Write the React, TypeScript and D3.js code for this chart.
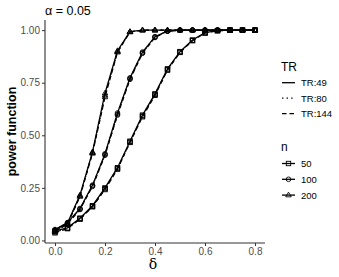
import { useEffect, useRef } from 'react';
import * as d3 from 'd3';

// delta values on the x axis
const deltas = [0, 0.05, 0.1, 0.15, 0.2, 0.25, 0.3, 0.35, 0.4, 0.45, 0.5, 0.55, 0.6, 0.65, 0.7, 0.75, 0.8];

const trLevels = ['TR:49', 'TR:80', 'TR:144'];
const nLevels = ['50', '100', '200'];

// power values, one array per n / TR
const n50_tr49 = [0.045, 0.060, 0.106, 0.165, 0.250, 0.346, 0.472, 0.596, 0.697, 0.816, 0.898, 0.953, 0.988, 0.998, 1, 1, 1];
const n50_tr80 = [0.040, 0.058, 0.104, 0.162, 0.246, 0.342, 0.468, 0.592, 0.694, 0.812, 0.896, 0.951, 0.987, 0.998, 1, 1, 1];
const n50_tr144 = [0.036, 0.056, 0.101, 0.160, 0.242, 0.339, 0.466, 0.588, 0.690, 0.810, 0.894, 0.950, 0.986, 0.997, 1, 1, 1];

const n100_tr49 = [0.052, 0.085, 0.152, 0.263, 0.412, 0.606, 0.773, 0.896, 0.969, 0.996, 1, 1, 1, 1, 1, 1, 1];
const n100_tr80 = [0.048, 0.082, 0.149, 0.260, 0.408, 0.600, 0.770, 0.892, 0.967, 0.995, 1, 1, 1, 1, 1, 1, 1];
const n100_tr144 = [0.045, 0.079, 0.147, 0.257, 0.405, 0.596, 0.766, 0.890, 0.965, 0.995, 1, 1, 1, 1, 1, 1, 1];

const n200_tr49 = [0.050, 0.083, 0.216, 0.421, 0.700, 0.902, 0.993, 1, 1, 1, 1, 1, 1, 1, 1, 1, 1];
const n200_tr80 = [0.046, 0.080, 0.212, 0.417, 0.690, 0.898, 0.992, 1, 1, 1, 1, 1, 1, 1, 1, 1, 1];
const n200_tr144 = [0.042, 0.077, 0.209, 0.414, 0.682, 0.895, 0.991, 1, 1, 1, 1, 1, 1, 1, 1, 1, 1];

const xTicks = [0, 0.2, 0.4, 0.6, 0.8];
const yTicks = [0, 0.25, 0.5, 0.75, 1];

interface Series {
  n: string;
  tr: string;
  values: number[];
}

const series: Series[] = [
  { n: '50', tr: 'TR:49', values: n50_tr49 },
  { n: '50', tr: 'TR:80', values: n50_tr80 },
  { n: '50', tr: 'TR:144', values: n50_tr144 },
  { n: '100', tr: 'TR:49', values: n100_tr49 },
  { n: '100', tr: 'TR:80', values: n100_tr80 },
  { n: '100', tr: 'TR:144', values: n100_tr144 },
  { n: '200', tr: 'TR:49', values: n200_tr49 },
  { n: '200', tr: 'TR:80', values: n200_tr80 },
  { n: '200', tr: 'TR:144', values: n200_tr144 },
];

const FONT = 'Liberation Sans, Arial, Helvetica, sans-serif';
const dashFor: Record<string, string | null> = { 'TR:49': null, 'TR:80': '1.4,3.2', 'TR:144': '4.5,3' };

// draw an open marker shape into a selection
function drawShape(g: d3.Selection<SVGGElement, unknown, null, undefined>, n: string, cx: number, cy: number) {
  if (n === '50') {
    g.append('rect')
      .attr('x', cx - 2.2).attr('y', cy - 2.2)
      .attr('width', 4.4).attr('height', 4.4)
      .attr('fill', 'none').attr('stroke', '#000').attr('stroke-width', 0.9);
  } else if (n === '100') {
    g.append('circle')
      .attr('cx', cx).attr('cy', cy).attr('r', 2.3)
      .attr('fill', 'none').attr('stroke', '#000').attr('stroke-width', 0.9);
  } else {
    const s = 2.9;
    g.append('path')
      .attr('d', `M${cx},${cy - s}L${cx + s * 0.95},${cy + s * 0.6}L${cx - s * 0.95},${cy + s * 0.6}Z`)
      .attr('fill', 'none').attr('stroke', '#000').attr('stroke-width', 0.9);
  }
}

export default function App() {
  const ref = useRef<SVGSVGElement>(null);

  useEffect(() => {
    if (!ref.current) return;
    const svg = d3.select(ref.current);
    svg.selectAll('*').remove();

    const panel = { left: 45, right: 265, top: 20, bottom: 243 };

    // ggplot style 5% expansion
    const xr = [d3.min(deltas)!, d3.max(deltas)!];
    const xe = (xr[1] - xr[0]) * 0.05;
    const x = d3.scaleLinear().domain([xr[0] - xe, xr[1] + xe]).range([panel.left, panel.right]);

    const all = series.flatMap(s => s.values);
    const yr = [d3.min(all)!, d3.max(all)!];
    const ye = (yr[1] - yr[0]) * 0.05;
    const y = d3.scaleLinear().domain([yr[0] - ye, yr[1] + ye]).range([panel.bottom, panel.top]);

    const line = d3.line<number>()
      .x((_, i) => x(deltas[i]))
      .y(d => y(d));

    // lines
    series.forEach(s => {
      const p = svg.append('path')
        .attr('d', line(s.values))
        .attr('fill', 'none')
        .attr('stroke', '#000')
        .attr('stroke-width', 1.3);
      if (dashFor[s.tr]) p.attr('stroke-dasharray', dashFor[s.tr]!);
    });

    // points
    const pts = svg.append('g');
    series.forEach(s => {
      s.values.forEach((v, i) => drawShape(pts as any, s.n, x(deltas[i]), y(v)));
    });

    // axes
    const xAxis = svg.append('g')
      .attr('transform', `translate(0,${panel.bottom})`)
      .call(d3.axisBottom(x).tickValues(xTicks).tickFormat(d3.format('.1f')).tickSize(3).tickPadding(2));
    const yAxis = svg.append('g')
      .attr('transform', `translate(${panel.left},0)`)
      .call(d3.axisLeft(y).tickValues(yTicks).tickFormat(d3.format('.2f')).tickSize(3).tickPadding(2));

    [xAxis, yAxis].forEach(a => {
      a.select('.domain').remove();
      a.selectAll('.tick line').attr('stroke', '#333').attr('stroke-width', 1);
      a.selectAll('.tick text')
        .attr('fill', '#4d4d4d')
        .style('font-family', FONT)
        .style('font-size', '10px');
    });

    svg.append('line')
      .attr('x1', panel.left).attr('x2', panel.left)
      .attr('y1', panel.top).attr('y2', panel.bottom)
      .attr('stroke', '#333').attr('stroke-width', 1.1);
    svg.append('line')
      .attr('x1', panel.left).attr('x2', panel.right)
      .attr('y1', panel.bottom).attr('y2', panel.bottom)
      .attr('stroke', '#333').attr('stroke-width', 1.1);

    // titles
    svg.append('text')
      .attr('x', panel.left).attr('y', 14.5)
      .style('font-family', FONT).style('font-size', '12.5px')
      .text('α = 0.05');

    svg.append('text')
      .attr('transform', `translate(15.5,${(panel.top + panel.bottom) / 2}) rotate(-90)`)
      .attr('text-anchor', 'middle')
      .style('font-family', FONT).style('font-size', '12.5px').style('font-weight', 'bold')
      .text('power function');

    svg.append('text')
      .attr('x', (panel.left + panel.right) / 2 - 2).attr('y', 269)
      .attr('text-anchor', 'middle')
      .style('font-family', 'DejaVu Serif, Liberation Serif, serif').style('font-size', '14px')
      .text('δ');

    // legend: TR
    const legX = 281;
    svg.append('text')
      .attr('x', legX).attr('y', 70.5)
      .style('font-family', FONT).style('font-size', '12px')
      .text('TR');
    trLevels.forEach((tr, i) => {
      const ky = 82.7 + i * 15.5;
      const l = svg.append('line')
        .attr('x1', 282).attr('x2', 295)
        .attr('y1', ky).attr('y2', ky)
        .attr('stroke', '#000').attr('stroke-width', 1.3);
      if (dashFor[tr]) l.attr('stroke-dasharray', dashFor[tr]!);
      svg.append('text')
        .attr('x', 301).attr('y', ky + 3.5)
        .style('font-family', FONT).style('font-size', '9.5px')
        .text(tr);
    });

    // legend: n
    svg.append('text')
      .attr('x', legX).attr('y', 150.5)
      .style('font-family', FONT).style('font-size', '12px')
      .text('n');
    nLevels.forEach((n, i) => {
      const ky = 163.5 + i * 15.8;
      svg.append('line')
        .attr('x1', 282).attr('x2', 295)
        .attr('y1', ky).attr('y2', ky)
        .attr('stroke', '#000').attr('stroke-width', 1.3);
      const g = svg.append('g');
      drawShape(g as any, n, 288.5, ky);
      svg.append('text')
        .attr('x', 301).attr('y', ky + 3.5)
        .style('font-family', FONT).style('font-size', '9.5px')
        .text(n);
    });
  }, []);

  return (
    <svg
      ref={ref}
      width={339}
      height={277}
      style={{ position: 'absolute', left: 0, top: 0, background: '#fff' }}
    />
  );
}
